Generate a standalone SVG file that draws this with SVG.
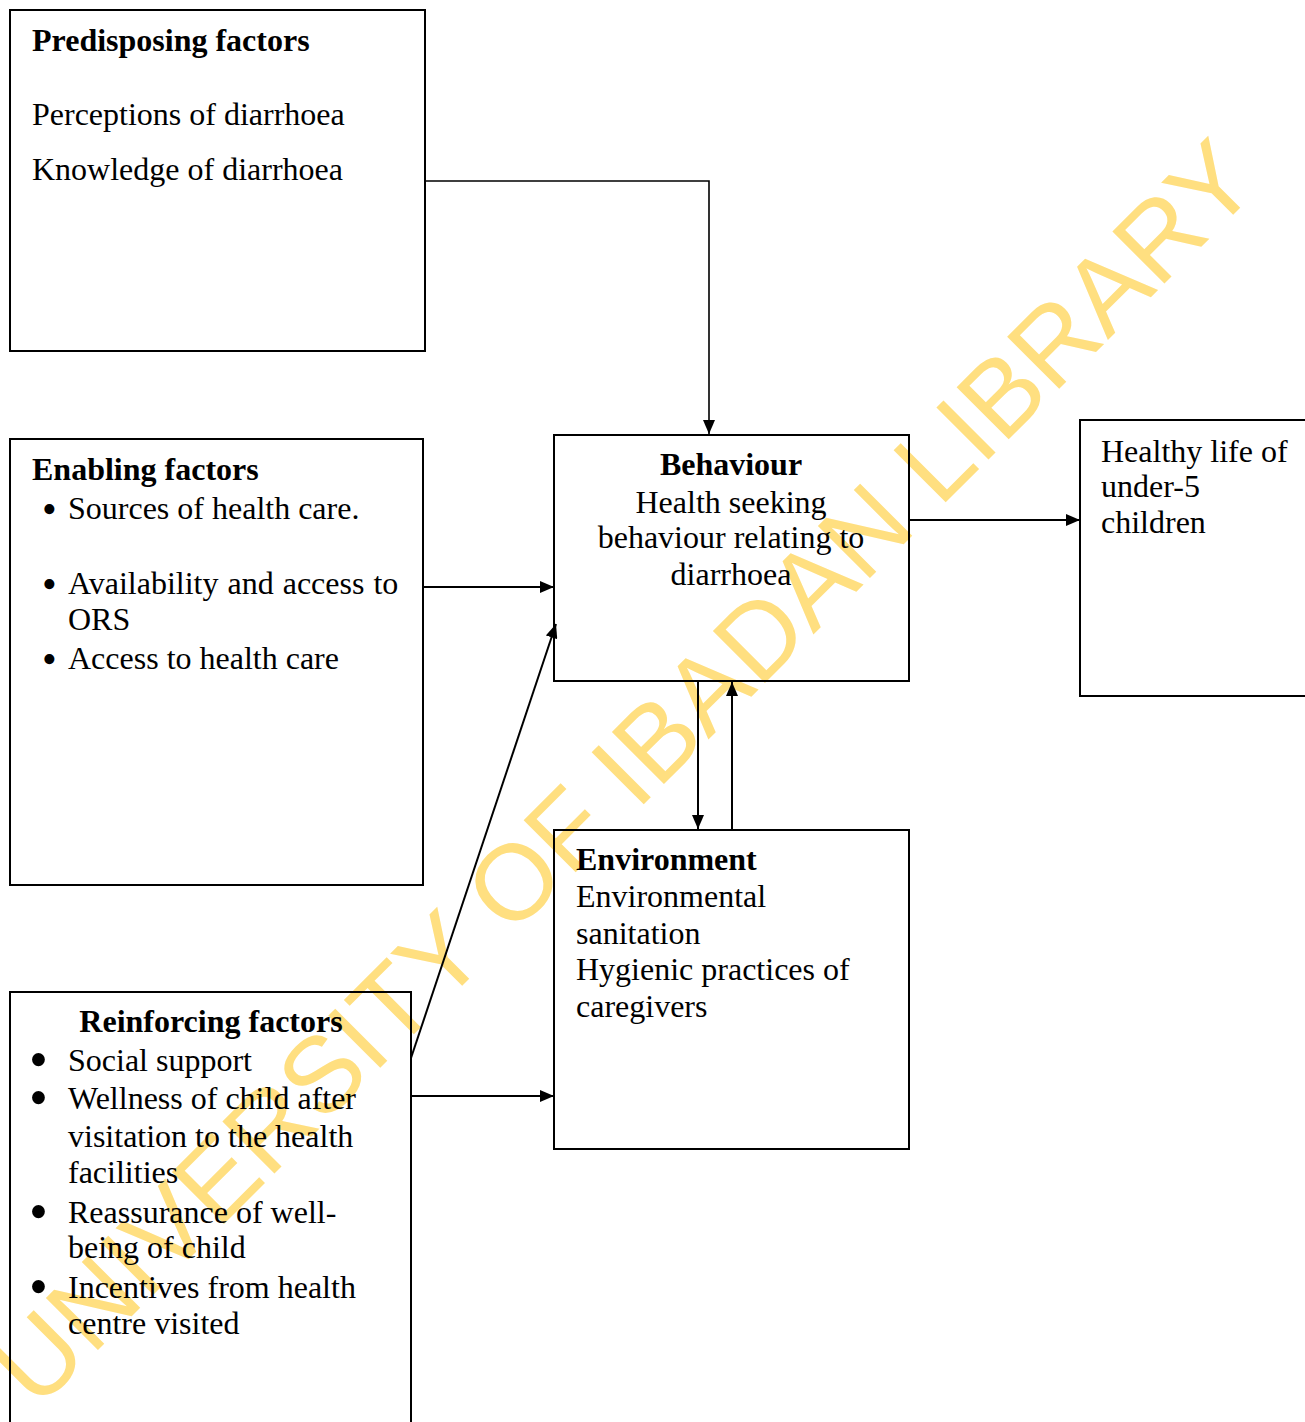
<svg xmlns="http://www.w3.org/2000/svg" width="1305" height="1422" viewBox="0 0 1305 1422">
<defs>
<style>
.box{fill:none;stroke:#000;stroke-width:2}
.t{font-family:"Liberation Serif","Times New Roman",serif;font-size:32px;fill:#000}
.b{font-weight:bold}
.c{text-anchor:middle}
.bu{font-size:42px}
.bu2{font-size:54px}
.conn{fill:none;stroke:#000;stroke-width:2}
.wm{font-family:"Liberation Sans",Arial,sans-serif;font-size:107px;fill:#FFDF80}
</style>
<marker id="ah" markerUnits="userSpaceOnUse" markerWidth="14" markerHeight="12" refX="14" refY="6" orient="auto">
<path d="M0,0 L14,6 L0,12 z" fill="#000"/>
</marker>
</defs>
<rect x="0" y="0" width="1305" height="1422" fill="#fff"/>
<g id="watermark">
<text class="wm" transform="translate(37,1411) rotate(-45)">UNIVERSITY OF IBADAN LIBRARY</text>
</g>
<g id="predisposing">
<rect class="box" x="10" y="10" width="415" height="341"/>
<text class="t b" x="32" y="51">Predisposing factors</text>
<text class="t" x="32" y="125">Perceptions of diarrhoea</text>
<text class="t" x="32" y="180">Knowledge of diarrhoea</text>
</g>
<g id="enabling">
<rect class="box" x="10" y="439" width="413" height="446"/>
<text class="t b" x="32" y="480">Enabling factors</text>
<text class="t bu" x="42" y="523">•</text>
<text class="t" x="68" y="519">Sources of health care.</text>
<text class="t bu" x="42" y="598">•</text>
<text class="t" x="68" y="594" word-spacing="1">Availability and access to</text>
<text class="t" x="68" y="630">ORS</text>
<text class="t bu" x="42" y="673">•</text>
<text class="t" x="68" y="669">Access to health care</text>
</g>
<g id="behaviour">
<rect class="box" x="554" y="435" width="355" height="246"/>
<text class="t b c" x="731" y="475">Behaviour</text>
<text class="t c" x="731" y="513">Health seeking</text>
<text class="t c" x="731" y="548">behaviour relating to</text>
<text class="t c" x="731" y="585">diarrhoea</text>
</g>
<g id="healthy">
<rect class="box" x="1080" y="420" width="240" height="276"/>
<text class="t" x="1101" y="462">Healthy life of</text>
<text class="t" x="1101" y="497">under-5</text>
<text class="t" x="1101" y="533">children</text>
</g>
<g id="environment">
<rect class="box" x="554" y="830" width="355" height="319"/>
<text class="t b" x="576" y="870">Environment</text>
<text class="t" x="576" y="907">Environmental</text>
<text class="t" x="576" y="944">sanitation</text>
<text class="t" x="576" y="980">Hygienic practices of</text>
<text class="t" x="576" y="1017">caregivers</text>
</g>
<g id="reinforcing">
<rect class="box" x="10" y="992" width="401" height="450"/>
<text class="t b c" x="211" y="1032">Reinforcing factors</text>
<text class="t bu2" x="29" y="1078">•</text>
<text class="t" x="68" y="1071">Social support</text>
<text class="t bu2" x="29" y="1116">•</text>
<text class="t" x="68" y="1109">Wellness of child after</text>
<text class="t" x="68" y="1147">visitation to the health</text>
<text class="t" x="68" y="1183">facilities</text>
<text class="t bu2" x="29" y="1230">•</text>
<text class="t" x="68" y="1223">Reassurance of well-</text>
<text class="t" x="68" y="1258">being of child</text>
<text class="t bu2" x="29" y="1305">•</text>
<text class="t" x="68" y="1298">Incentives from health</text>
<text class="t" x="68" y="1334">centre visited</text>
</g>
<g id="connectors">
<path class="conn" style="stroke-width:1.6" d="M425,181 H709 V434" marker-end="url(#ah)"/>
<path class="conn" d="M423,587 H554" marker-end="url(#ah)"/>
<path class="conn" d="M909,520 H1080" marker-end="url(#ah)"/>
<path class="conn" d="M698,681 V829" marker-end="url(#ah)"/>
<path class="conn" d="M732,830 V682" marker-end="url(#ah)"/>
<path class="conn" d="M411,1058 L556,624" marker-end="url(#ah)"/>
<path class="conn" d="M411,1096 H554" marker-end="url(#ah)"/>
</g>
</svg>
